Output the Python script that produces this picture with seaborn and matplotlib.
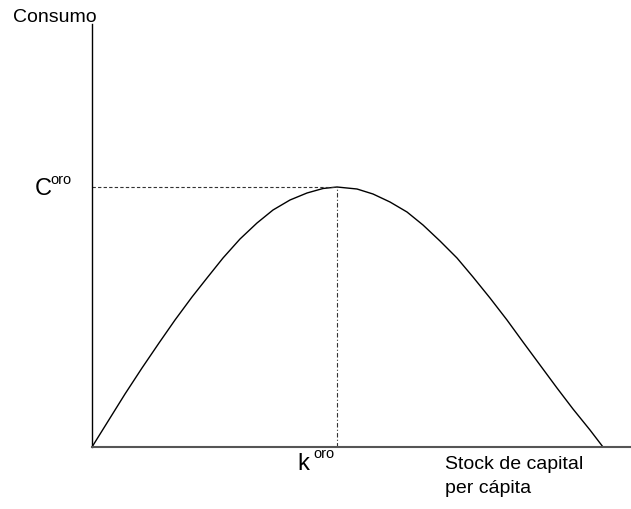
import matplotlib
matplotlib.use('Agg')
import matplotlib.pyplot as plt
import seaborn as sns
import numpy as np

# Golden rule curve (arbitrary units)
capital = [0, 33, 50, 67, 83, 100, 115, 131, 148, 165, 181, 198, 215, 231, 245,
           265, 281, 298, 315, 331, 348, 365, 381, 398, 415, 431, 448, 465, 481, 498, 511]
consumo = [0, 53, 79, 104, 127, 150, 169, 189, 208, 224, 237, 247, 254, 258.5, 260,
           258, 253, 245, 235, 222, 206, 189, 170, 149, 127, 105, 82, 59, 38, 17, 0]

sns.set_style('white')
plt.rcParams['font.family'] = ['Liberation Sans', 'DejaVu Sans']

W, H = 631, 510
fig = plt.figure(figsize=(W / 100, H / 100), dpi=100)
ax = fig.add_axes([92 / W, 1 - 448 / H, 1 - 92 / W, (448 - 25) / H])

sns.lineplot(x=capital, y=consumo, ax=ax, color='black', lw=1.0,
             sort=False, estimator=None)

# golden rule point
i_max = int(np.argmax(consumo))
k_oro, c_oro = capital[i_max], consumo[i_max]
ax.plot([0, k_oro], [c_oro, c_oro], color='#333333', lw=0.8, ls=(0, (3, 2)))
ax.plot([k_oro, k_oro], [0, c_oro], color='#333333', lw=0.8, ls=(0, (4, 2, 1, 2)))

ax.set_xlim(0, 539)
ax.set_ylim(0, 423)
ax.set_xticks([])
ax.set_yticks([])
for s in ['top', 'right']:
    ax.spines[s].set_visible(False)
ax.spines['left'].set_color('black')
ax.spines['left'].set_linewidth(1.0)
ax.spines['bottom'].set_color('#555555')
ax.spines['bottom'].set_linewidth(1.5)

def px(x, y):
    return x / W, 1 - y / H

txt = dict(va='baseline', ha='left', color='black')
fig.text(*px(13, 22), 'Consumo', fontsize=14, **txt)
fig.text(*px(35, 195), 'C', fontsize=17, **txt)
fig.text(*px(50, 184), 'oro', fontsize=10.5, **txt)
fig.text(*px(297, 470), 'k', fontsize=17, **txt)
fig.text(*px(313, 458), 'oro', fontsize=10.5, **txt)
fig.text(*px(445, 469), 'Stock de capital', fontsize=14, **txt)
fig.text(*px(445, 493), 'per cápita', fontsize=14, **txt)

fig.savefig('out.png', dpi=100)
